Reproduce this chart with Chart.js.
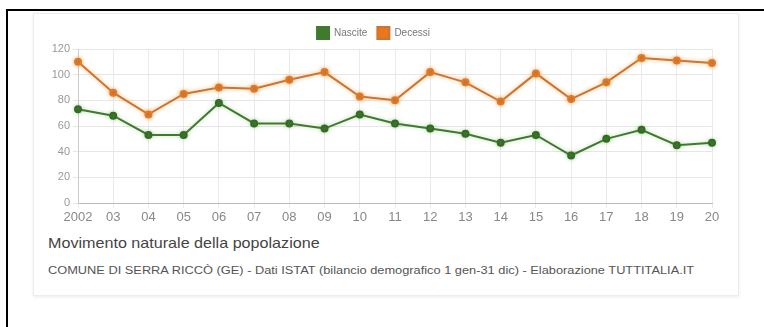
<!DOCTYPE html>
<html>
<head>
<meta charset="utf-8">
<script src="https://cdn.jsdelivr.net/npm/chart.js@4/dist/chart.umd.min.js"></script>
<style>
  html, body { margin: 0; padding: 0; background: #fff; width: 764px; height: 327px; overflow: hidden; font-family: "Liberation Sans", Arial, sans-serif; }
  #frame { position: absolute; left: 6px; top: 9px; width: 800px; height: 400px; border-left: 2px solid #000; border-top: 2px solid #000; }
  #card { position: absolute; left: 33px; top: 13px; width: 704px; height: 281px; border: 1px solid #ececec; box-shadow: 0 1px 3px rgba(0,0,0,0.08); background: #fff; }
  #wrap { position: absolute; left: 35px; top: 15px; width: 700px; height: 215px; }
  #title { position: absolute; left: 48px; top: 234px; font-size: 15px; color: #444; white-space: nowrap; transform: scaleX(1.075); transform-origin: left top; }
  #sub { position: absolute; left: 48px; top: 265px; font-size: 10px; color: #555; white-space: nowrap; transform: scaleX(1.28); transform-origin: left top; }
</style>
</head>
<body>
<div id="frame"></div>
<div id="card"></div>
<div id="wrap"><canvas id="c" width="700" height="215"></canvas></div>
<div id="title">Movimento naturale della popolazione</div>
<div id="sub">COMUNE DI SERRA RICCÒ (GE) - Dati ISTAT (bilancio demografico 1 gen-31 dic) - Elaborazione TUTTITALIA.IT</div>
<script>
const years = ["2002","03","04","05","06","07","08","09","10","11","12","13","14","15","16","17","18","19","20"];
const nascite = [73, 68, 53, 53, 78, 62, 62, 58, 69, 62, 58, 54, 47, 53, 37, 50, 57, 45, 47];
const decessi = [110, 86, 69, 85, 90, 89, 96, 102, 83, 80, 102, 94, 79, 101, 81, 94, 113, 111, 109];
const yTicks = [0, 20, 40, 60, 80, 100, 120];

const glow = {
  id: 'glow',
  beforeDatasetDraw(chart, args) {
    const ctx = chart.ctx;
    ctx.save();
    ctx.shadowColor = args.index === 1 ? 'rgba(245,150,50,0.6)' : 'rgba(90,160,60,0.35)';
    ctx.shadowBlur = 4;
  },
  afterDatasetDraw(chart) { chart.ctx.restore(); }
};

new Chart(document.getElementById('c'), {
  type: 'line',
  data: {
    labels: years,
    datasets: [
      { label: 'Nascite', data: nascite, borderColor: '#3f7a2e', backgroundColor: '#3f7a2e',
        pointBackgroundColor: '#356b27', pointBorderColor: '#356b27', pointRadius: 3, borderWidth: 2, tension: 0, fill: false },
      { label: 'Decessi', data: decessi, borderColor: '#cc7430', backgroundColor: '#e8771e',
        pointBackgroundColor: '#b8682e', pointBorderColor: '#e07a2a', pointRadius: 3, borderWidth: 2, tension: 0, fill: false }
    ]
  },
  options: {
    responsive: false,
    animation: false,
    layout: { padding: { top: 2, right: 23, left: 0, bottom: 0 } },
    plugins: {
      legend: {
        position: 'top',
        labels: { boxWidth: 12, boxHeight: 12, padding: 10, color: '#777', font: { size: 10, family: '"Liberation Sans", Arial, sans-serif' } }
      },
      tooltip: { enabled: false }
    },
    scales: {
      x: {
        offset: false,
        grid: { color: '#ebebeb', tickLength: 5, drawTicks: true },
        border: { color: '#bbb' },
        ticks: { color: '#888', padding: 2, maxRotation: 0, autoSkip: false, font: { size: 13, family: '"Liberation Sans", Arial, sans-serif' } },
        afterFit(s) { s.height = 27; }
      },
      y: {
        min: 0, max: 120,
        afterBuildTicks(s) { s.ticks = yTicks.map(v => ({ value: v })); },
        grid: { color: '#e6e6e6', tickLength: 5 },
        border: { color: '#ccc' },
        ticks: { color: '#999', padding: 3, font: { size: 11, family: '"Liberation Sans", Arial, sans-serif' } },
        afterFit(s) { s.width = 43; }
      }
    }
  },
  plugins: [glow]
});
</script>
</body>
</html>
